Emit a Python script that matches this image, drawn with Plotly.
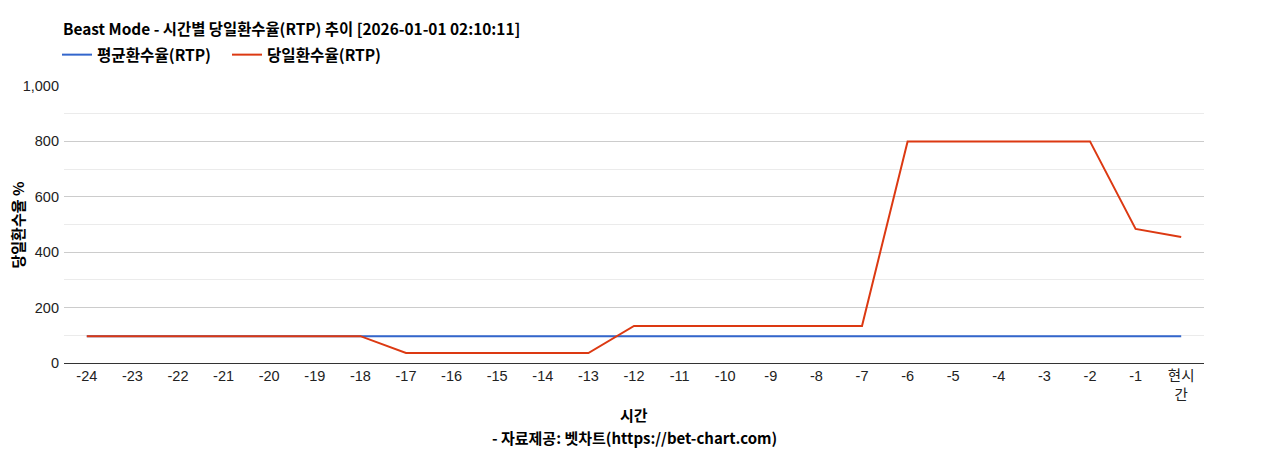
import plotly.graph_objects as go

hours = ["-24", "-23", "-22", "-21", "-20", "-19", "-18", "-17", "-16", "-15", "-14", "-13",
         "-12", "-11", "-10", "-9", "-8", "-7", "-6", "-5", "-4", "-3", "-2", "-1", "현시<br>간"]
avg_rtp = [97] * 25
daily_rtp = [97, 97, 97, 97, 97, 97, 97, 36, 36, 36, 36, 36,
             134, 134, 134, 134, 134, 134, 800, 800, 800, 800, 800, 484, 455]

title_text = "Beast Mode - 시간별 당일환수율(RTP) 추이 [2026-01-01 02:10:11]"
x_title = "시간"
footer = "- 자료제공: 벳차트(https://bet-chart.com)"
y_title = "당일환수율 %"

FONT = "Liberation Sans, Arial, Noto Sans CJK KR, sans-serif"
BOLD = "Noto Sans CJK KR, Liberation Sans, sans-serif"

OFF = 8  # page body margin
W, H = 1268 - OFF, 450 - OFF
PT, PB, PL, PR = 86 - OFF, 363 - OFF, 64 - OFF, 1204 - OFF


def py(ypage):
    return (PB - (ypage - OFF)) / (PB - PT)


def px(xpage):
    return ((xpage - OFF) - PL) / (PR - PL)


fig = go.Figure()
fig.add_trace(go.Scatter(x=hours, y=avg_rtp, mode="lines", name="평균환수율(RTP)",
                         line=dict(color="#3366cc", width=2)))
fig.add_trace(go.Scatter(x=hours, y=daily_rtp, mode="lines", name="당일환수율(RTP)",
                         line=dict(color="#dc3912", width=2)))

fig.update_layout(
    width=W, height=H,
    margin=dict(l=PL, r=W - PR, t=PT, b=H - PB),
    paper_bgcolor="white", plot_bgcolor="white",
    font=dict(family=FONT, size=14.5, color="#222222"),
    title=dict(text="<b>" + title_text + "</b>", x=(63 - OFF) / W, xanchor="left", xref="container",
               y=1 - (30 - OFF) / H, yanchor="middle", yref="container",
               font=dict(family=BOLD, size=15.4, color="#000000")),
    legend=dict(orientation="h", x=px(57), xref="paper", xanchor="left",
                y=py(55), yref="paper", yanchor="middle",
                font=dict(family=BOLD, size=15.6, color="#000000", weight="bold"),
                itemwidth=30, tracegroupgap=0,
                entrywidth=125, entrywidthmode="pixels"),
    showlegend=True,
    xaxis=dict(type="category", range=[-0.5, 24.5], showgrid=False,
               showline=True, linecolor="#333333", linewidth=1,
               ticks="", tickfont=dict(family=FONT, size=14.5, color="#222222"),
               fixedrange=True),
    yaxis=dict(range=[0, 1000], dtick=200, tick0=0, tickformat=",",
               showgrid=True, gridcolor="#cccccc", gridwidth=1,
               zeroline=True, zerolinecolor="#333333", zerolinewidth=1,
               minor=dict(dtick=100, showgrid=True, gridcolor="#ebebeb", gridwidth=1),
               tickfont=dict(family=FONT, size=14.5, color="#222222"),
               ticklabelstandoff=4,
               ticks="", fixedrange=True),
    annotations=[
        dict(text="<b>" + x_title + "</b>", xref="paper", x=0.5, yref="paper",
             y=py(414), yanchor="middle", showarrow=False,
             font=dict(family=BOLD, size=15, color="#000000")),
        dict(text="<b>" + footer + "</b>", xref="paper", x=0.5, yref="paper",
             y=py(437), yanchor="middle", showarrow=False,
             font=dict(family=BOLD, size=15, color="#000000")),
        dict(text="<b>" + y_title + "</b>", xref="paper", x=px(17), xanchor="center",
             yref="paper", y=0.5, yanchor="middle", textangle=-90, showarrow=False,
             font=dict(family=BOLD, size=15, color="#000000")),
    ],
)

fig.write_html("out.html")
